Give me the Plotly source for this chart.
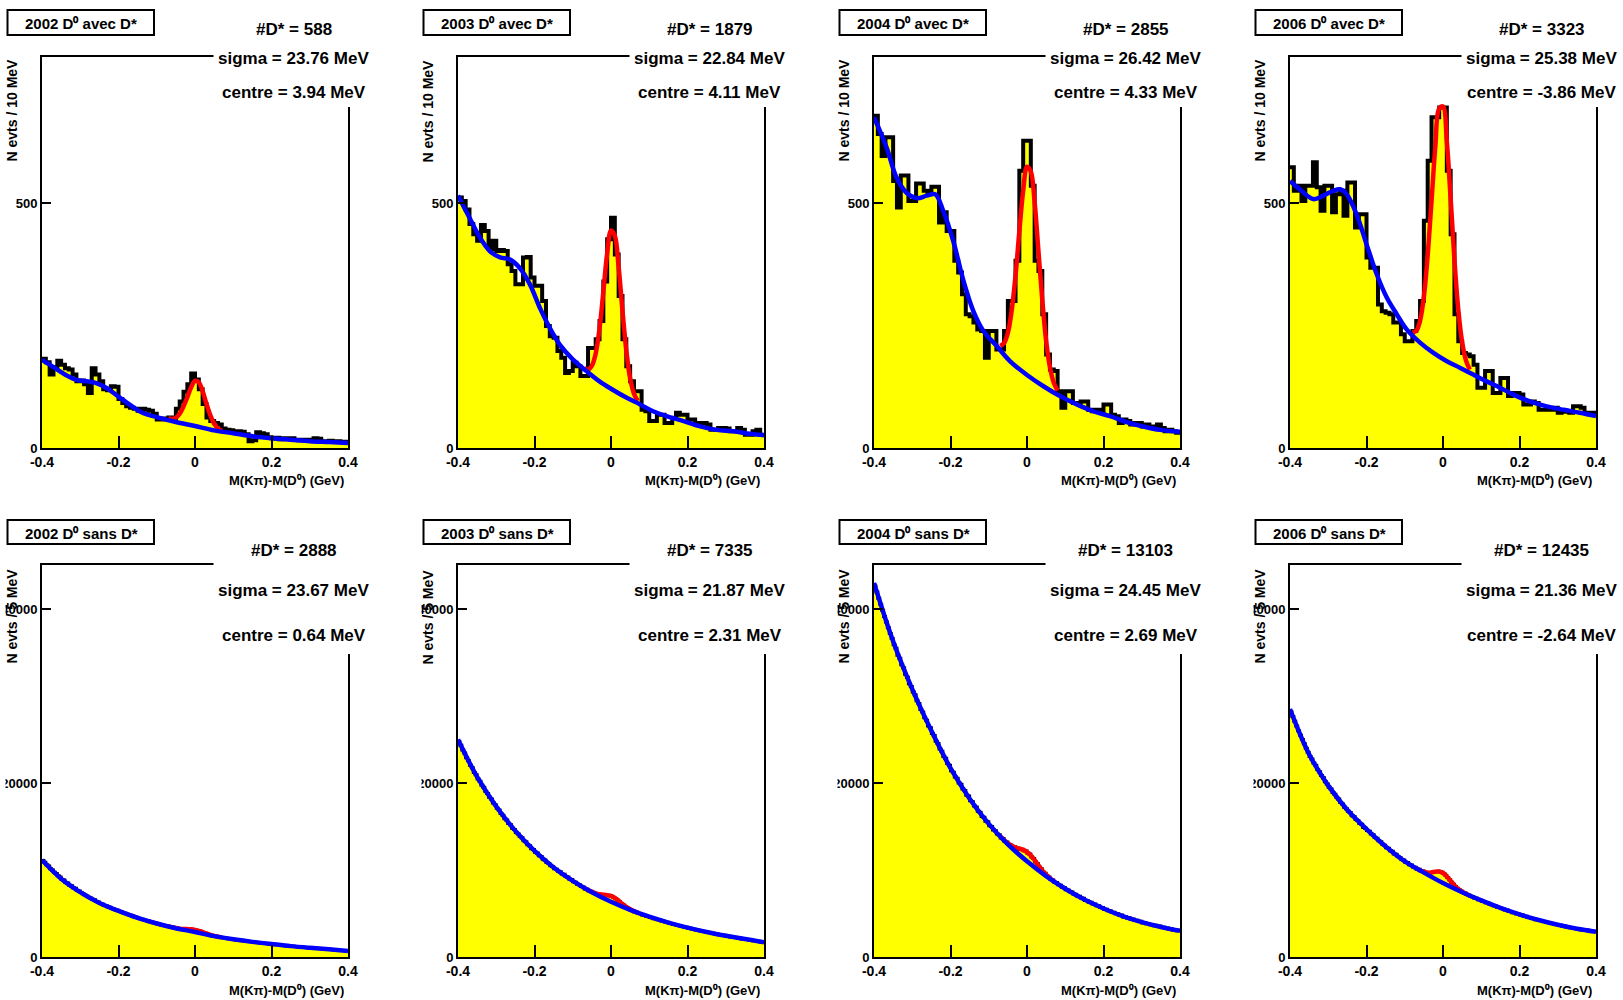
import numpy as np
import plotly.graph_objects as go

# figure covers the whole 1623x1000 page (body margin removed after drawing)
PAGE_W, PAGE_H = 1623, 1000
OFF = 0
W, H = PAGE_W - 2 * OFF, PAGE_H - 2 * OFF
FONT = "Liberation Sans, Arial, Helvetica, sans-serif"

# ---------------- labels / fit results ----------------
YEARS = ["2002", "2003", "2004", "2006"]
N_DSTAR_AVEC = ["588", "1879", "2855", "3323"]
SIGMA_AVEC = ["23.76", "22.84", "26.42", "25.38"]
CENTRE_AVEC = ["3.94", "4.11", "4.33", "-3.86"]
N_DSTAR_SANS = ["2888", "7335", "13103", "12435"]
SIGMA_SANS = ["23.67", "21.87", "24.45", "21.36"]
CENTRE_SANS = ["0.64", "2.31", "2.69", "-2.64"]

X_TICKS = [-0.4, -0.2, 0, 0.2, 0.4]
X_TICK_TEXT = ["-0.4", "-0.2", "0", "0.2", "0.4"]
Y_TICKS_AVEC = [0, 500]
Y_TICK_TEXT_AVEC = ["0", "500"]
Y_TICKS_SANS = [0, 20000, 40000]
Y_TICK_TEXT_SANS = ["0", "20000", "40000"]

# ---------------- histograms: D0 avec D* (10 MeV bins, 80 bins) ----------------
H2002_AVEC = [182, 175, 150, 165, 178, 170, 163, 160, 150, 136,
              138, 130, 112, 163, 150, 136, 120, 118, 126, 125,
              100, 92, 85, 82, 80, 76, 80, 78, 76, 70,
              58, 60, 58, 62, 60, 80, 95, 115, 130, 152,
              140, 120, 90, 62, 55, 51, 48, 40, 37, 36,
              34, 34, 33, 28, 14, 16, 32, 30, 28, 22,
              20, 21, 18, 20, 19, 20, 17, 16, 17, 15,
              17, 20, 19, 14, 13, 15, 12, 14, 12, 13]
H2003_AVEC = [511, 504, 487, 457, 436, 423, 455, 443, 406, 423,
              402, 404, 402, 375, 361, 334, 334, 389, 390, 348,
              331, 331, 300, 249, 228, 225, 198, 184, 153, 157,
              174, 167, 147, 147, 204, 204, 222, 259, 340, 426,
              470, 395, 310, 222, 167, 136, 116, 116, 78, 75,
              55, 55, 68, 68, 51, 51, 61, 72, 68, 68,
              58, 58, 48, 51, 51, 48, 37, 37, 41, 41,
              40, 34, 34, 41, 37, 27, 27, 34, 37, 27]
H2004_AVEC = [678, 641, 596, 634, 634, 545, 491, 556, 556, 504,
              504, 540, 540, 525, 518, 533, 533, 460, 481, 443,
              443, 382, 358, 314, 273, 269, 256, 242, 239, 184,
              239, 239, 201, 201, 239, 300, 300, 382, 566, 627,
              627, 535, 382, 361, 273, 191, 160, 157, 116, 82,
              116, 116, 92, 92, 95, 95, 78, 75, 78, 75,
              89, 89, 68, 65, 51, 58, 55, 48, 51, 51,
              44, 48, 44, 41, 48, 41, 34, 37, 34, 31]
H2006_AVEC = [573, 525, 535, 504, 535, 535, 583, 532, 484, 535,
              535, 481, 518, 525, 474, 542, 542, 450, 477, 477,
              389, 368, 368, 293, 279, 276, 273, 256, 256, 232,
              218, 218, 239, 259, 300, 464, 586, 675, 675, 695,
              695, 566, 436, 273, 218, 194, 191, 187, 170, 123,
              123, 157, 157, 112, 112, 143, 143, 106, 112, 112,
              109, 89, 89, 95, 92, 78, 78, 78, 78, 82,
              72, 74, 75, 72, 85, 85, 82, 72, 72, 72]

# ---------------- histograms: D0 sans D* (5 MeV bins, 160 bins) ----------------
H2002_SANS = [11100, 10900, 10600, 10450, 10150, 10000, 9750, 9600, 9350, 9200,
              8900, 8850, 8550, 8500, 8250, 8200, 7950, 7900, 7650, 7600,
              7400, 7280, 7120, 7020, 6880, 6770, 6630, 6570, 6380, 6320,
              6150, 6080, 5930, 5910, 5780, 5720, 5580, 5520, 5430, 5370,
              5250, 5210, 5090, 5020, 4930, 4870, 4790, 4720, 4640, 4570,
              4450, 4410, 4340, 4270, 4190, 4160, 4040, 4010, 3940, 3910,
              3800, 3760, 3690, 3660, 3590, 3560, 3500, 3470, 3410, 3390,
              3320, 3270, 3260, 3235, 3225, 3200, 3210, 3180, 3175, 3130,
              3110, 3030, 2980, 2900, 2830, 2740, 2670, 2590, 2540, 2460,
              2410, 2350, 2315, 2260, 2230, 2175, 2145, 2105, 2075, 2035,
              2000, 1975, 1935, 1915, 1875, 1860, 1825, 1805, 1770, 1755,
              1715, 1695, 1660, 1645, 1610, 1595, 1560, 1545, 1515, 1505,
              1470, 1450, 1415, 1400, 1365, 1355, 1320, 1305, 1275, 1265,
              1240, 1225, 1195, 1185, 1155, 1145, 1115, 1105, 1080, 1075,
              1050, 1035, 1005, 1000, 975, 965, 940, 935, 905, 900,
              880, 865, 835, 825, 795, 785, 755, 750, 720, 710]
H2003_SANS = [24750, 24350, 23800, 23450, 22900, 22550, 22050, 21750, 21200, 20950,
              20450, 20200, 19750, 19500, 19050, 18800, 18350, 18150, 17700, 17500,
              17100, 16900, 16500, 16300, 15900, 15750, 15350, 15200, 14800, 14650,
              14300, 14150, 13850, 13700, 13350, 13250, 12900, 12800, 12450, 12350,
              12050, 11950, 11650, 11550, 11250, 11150, 10850, 10750, 10500, 10400,
              10150, 10100, 9850, 9800, 9550, 9500, 9250, 9200, 8950, 8900,
              8640, 8580, 8360, 8310, 8090, 8040, 7830, 7800, 7600, 7570,
              7440, 7350, 7275, 7225, 7180, 7160, 7140, 7130, 7090, 7040,
              6960, 6840, 6690, 6520, 6340, 6150, 5970, 5810, 5655, 5520,
              5370, 5310, 5175, 5130, 5005, 4960, 4840, 4800, 4690, 4660,
              4540, 4510, 4400, 4370, 4270, 4240, 4130, 4110, 4010, 3990,
              3880, 3860, 3760, 3740, 3640, 3620, 3530, 3510, 3420, 3410,
              3310, 3300, 3210, 3200, 3110, 3100, 3010, 3000, 2920, 2910,
              2820, 2820, 2730, 2730, 2650, 2650, 2570, 2570, 2490, 2490,
              2390, 2390, 2310, 2310, 2230, 2230, 2150, 2150, 2080, 2090,
              2010, 2010, 1930, 1940, 1860, 1870, 1790, 1800, 1730, 1720]
H2004_SANS = [42650, 41950, 41250, 40550, 39850, 39150, 38500, 37850, 37200, 36600,
              35900, 35500, 34700, 34350, 33600, 33250, 32500, 32150, 31400, 31100,
              30450, 30150, 29450, 29150, 28450, 28150, 27500, 27200, 26550, 26350,
              25700, 25450, 24800, 24550, 23900, 23650, 23050, 22850, 22250, 22050,
              21400, 21250, 20700, 20550, 20000, 19850, 19300, 19150, 18600, 18500,
              17950, 17850, 17350, 17250, 16750, 16650, 16150, 16050, 15600, 15550,
              15100, 15010, 14600, 14520, 14130, 14060, 13690, 13620, 13280, 13220,
              12930, 12880, 12660, 12660, 12480, 12510, 12350, 12380, 12200, 12185,
              11930, 11830, 11490, 11310, 10920, 10715, 10320, 10140, 9770, 9630,
              9300, 9210, 8920, 8860, 8600, 8550, 8305, 8260, 8030, 7990,
              7740, 7710, 7490, 7460, 7240, 7220, 7000, 6980, 6770, 6760,
              6500, 6490, 6290, 6290, 6080, 6080, 5890, 5890, 5690, 5700,
              5490, 5500, 5310, 5320, 5130, 5150, 4960, 4980, 4800, 4820,
              4610, 4640, 4470, 4500, 4330, 4360, 4200, 4230, 4070, 4100,
              3920, 3960, 3810, 3850, 3700, 3750, 3600, 3650, 3500, 3550,
              3380, 3430, 3290, 3340, 3200, 3250, 3110, 3170, 3030, 3080]
H2006_SANS = [28200, 27650, 27100, 26550, 26000, 25500, 25000, 24500, 24000, 23550,
              23050, 22750, 22300, 22050, 21550, 21300, 20850, 20600, 20150, 19900,
              19500, 19300, 18900, 18700, 18350, 18150, 17750, 17600, 17200, 17050,
              16750, 16600, 16250, 16150, 15800, 15700, 15350, 15250, 14900, 14800,
              14550, 14450, 14150, 14050, 13750, 13650, 13350, 13250, 12950, 12850,
              12550, 12500, 12200, 12150, 11850, 11800, 11550, 11450, 11200, 11150,
              10880, 10850, 10610, 10580, 10350, 10325, 10100, 10095, 9885, 9895,
              9770, 9710, 9700, 9705, 9740, 9785, 9820, 9845, 9810, 9730,
              9590, 9390, 9140, 8880, 8600, 8350, 8110, 7910, 7735, 7585,
              7410, 7355, 7180, 7135, 6970, 6930, 6780, 6740, 6590, 6560,
              6410, 6380, 6230, 6200, 6050, 6020, 5880, 5850, 5710, 5690,
              5570, 5550, 5410, 5390, 5250, 5230, 5100, 5080, 4950, 4940,
              4830, 4820, 4690, 4680, 4550, 4550, 4420, 4420, 4290, 4290,
              4190, 4190, 4070, 4070, 3960, 3960, 3840, 3850, 3740, 3740,
              3650, 3660, 3550, 3560, 3460, 3470, 3370, 3380, 3280, 3290,
              3200, 3220, 3130, 3150, 3060, 3090, 3000, 3020, 2930, 2950]

# ---------------- fit curves ----------------
BKG_X_2002_AVEC = [-0.4, -0.37, -0.34, -0.31, -0.28, -0.26, -0.23, -0.2, -0.17, -0.14, -0.1,
                   -0.05, 0, 0.05, 0.1, 0.15, 0.2, 0.25, 0.3, 0.35, 0.4]
BKG_2002_AVEC = [180, 165, 150, 139, 136, 133, 122, 105, 88, 73, 63,
                 53, 45, 36, 30, 24, 20, 17, 14, 12, 10]
BKG_X_2003_AVEC = [-0.4, -0.37, -0.343, -0.317, -0.29, -0.265, -0.239, -0.212, -0.186, -0.16,
                   -0.134, -0.1, -0.064, -0.03, 0, 0.04, 0.076, 0.11, 0.145, 0.19,
                   0.233, 0.276, 0.32, 0.364, 0.4]
BKG_2003_AVEC = [515, 470, 430, 402, 389, 385, 368, 334, 286, 245,
                 211, 181, 157, 136, 121, 103, 89, 75, 65, 55,
                 44, 37, 34, 29, 26]
BKG_X_2004_AVEC = [-0.4, -0.367, -0.341, -0.315, -0.288, -0.262, -0.24, -0.219, -0.193, -0.166,
                   -0.14, -0.114, -0.079, -0.044, 0, 0.043, 0.086, 0.13, 0.173, 0.217,
                   0.26, 0.304, 0.348, 0.4]
BKG_2004_AVEC = [675, 613, 552, 521, 510, 515, 518, 484, 423, 341,
                 279, 239, 208, 177, 149, 126, 106, 89, 75, 65,
                 53, 44, 37, 33]
BKG_X_2006_AVEC = [-0.4, -0.37, -0.339, -0.313, -0.287, -0.269, -0.252, -0.226, -0.2, -0.173,
                   -0.147, -0.121, -0.095, -0.06, -0.025, 0.01, 0.044, 0.079, 0.114, 0.149,
                   0.184, 0.227, 0.271, 0.315, 0.358, 0.4]
BKG_2006_AVEC = [545, 525, 508, 515, 525, 528, 518, 477, 416, 354,
                 307, 273, 242, 215, 194, 177, 164, 150, 136, 123,
                 109, 95, 85, 78, 72, 65]

TOT_X_2002_AVEC = [-0.07, -0.06, -0.05, -0.04, -0.03, -0.02, -0.01, 0, 0.01, 0.02, 0.03, 0.04, 0.05, 0.06, 0.07]
TOT_2002_AVEC = [61, 59, 62, 70, 85, 104, 124, 137, 134, 116, 90, 67, 50, 40, 35]
TOT_X_2003_AVEC = [-0.07, -0.06, -0.05, -0.04, -0.03, -0.02, -0.01, 0, 0.01, 0.02, 0.03, 0.04, 0.05, 0.06, 0.07]
TOT_2003_AVEC = [163, 160, 168, 193, 244, 319, 397, 444, 433, 369, 280, 199, 142, 111, 96]
TOT_X_2004_AVEC = [-0.07, -0.06, -0.05, -0.04, -0.03, -0.02, -0.01, 0, 0.01, 0.02, 0.03, 0.04, 0.05, 0.06, 0.07, 0.08]
TOT_2004_AVEC = [208, 214, 235, 281, 352, 442, 525, 574, 564, 501, 401, 302, 219, 165, 133, 117]
TOT_X_2006_AVEC = [-0.08, -0.07, -0.06, -0.05, -0.04, -0.03, -0.02, -0.01, 0, 0.01, 0.02, 0.03, 0.04, 0.05, 0.06, 0.07]
TOT_2006_AVEC = [236, 239, 260, 309, 394, 504, 616, 693, 697, 625, 509, 383, 282, 216, 179, 160]

BKG_X_SANS = [-0.4, -0.35, -0.3, -0.25, -0.2, -0.15, -0.1, -0.05, 0,
              0.05, 0.1, 0.15, 0.2, 0.25, 0.3, 0.35, 0.4]
BKG_2002_SANS = [11150, 9000, 7450, 6200, 5300, 4500, 3850, 3300, 2880,
                 2400, 2030, 1740, 1490, 1250, 1060, 890, 700]
BKG_2003_SANS = [25000, 20700, 17300, 14500, 12200, 10300, 8750, 7450, 6350,
                 5420, 4630, 3960, 3380, 2880, 2450, 2060, 1700]
BKG_2004_SANS = [43000, 36300, 30800, 26000, 21700, 18200, 15300, 12950, 11000,
                 9300, 7850, 6600, 5580, 4700, 4000, 3450, 3000]
BKG_2006_SANS = [28500, 23300, 19700, 16900, 14700, 12700, 11000, 9700, 8500,
                 7450, 6500, 5650, 4900, 4250, 3700, 3250, 2900]

TOT_X_SANS = [-0.07, -0.06, -0.05, -0.04, -0.03, -0.02, -0.01, 0, 0.01, 0.02, 0.03, 0.04, 0.05, 0.06, 0.07]
TOT_2002_SANS = [3553, 3429, 3324, 3263, 3224, 3205, 3177, 3120, 3002, 2851, 2701, 2550, 2427, 2330, 2253]
TOT_2003_SANS = [7933, 7701, 7488, 7312, 7204, 7156, 7099, 7015, 6790, 6452, 6079, 5752, 5482, 5281, 5106]
TOT_2004_SANS = [13883, 13440, 13055, 12783, 12587, 12455, 12314, 12062, 11672, 11131, 10533, 9964, 9464, 9069, 8724]
TOT_2006_SANS = [10208, 9981, 9799, 9701, 9721, 9806, 9824, 9652, 9255, 8732, 8220, 7807, 7506, 7276, 7073]

# ---------------- layout constants (page pixels) ----------------
FRAME_LEFT = [42, 458, 874, 1290]
FRAME_W = 306
ROW = {
    "avec": dict(top=57, bottom=448, ymax=798, title_y0=10, title_y1=35,
                 stat_y=[29, 58, 93], box_y0=4, box_y1=107, xtitle_y=480,
                 ytitle_top=57, ylab="N evts / 10 MeV"),
    "sans": dict(top=565, bottom=957, ymax=45060, title_y0=520, title_y1=544,
                 stat_y=[550, 590, 635], box_y0=505, box_y1=654, xtitle_y=990,
                 ytitle_top=567, ylab="N evts / 5 MeV"),
}
SUP0 = "\u2070"


def px(x):
    return (x - OFF) / W


def py(y):
    return 1 - (y - OFF) / H


def bold(size):
    return dict(family=FONT, size=size, color="black", weight="bold")


panels = []
hist_avec = [H2002_AVEC, H2003_AVEC, H2004_AVEC, H2006_AVEC]
hist_sans = [H2002_SANS, H2003_SANS, H2004_SANS, H2006_SANS]
bkg_avec = [(BKG_X_2002_AVEC, BKG_2002_AVEC), (BKG_X_2003_AVEC, BKG_2003_AVEC),
            (BKG_X_2004_AVEC, BKG_2004_AVEC), (BKG_X_2006_AVEC, BKG_2006_AVEC)]
tot_avec = [(TOT_X_2002_AVEC, TOT_2002_AVEC), (TOT_X_2003_AVEC, TOT_2003_AVEC),
            (TOT_X_2004_AVEC, TOT_2004_AVEC), (TOT_X_2006_AVEC, TOT_2006_AVEC)]
bkg_sans = [BKG_2002_SANS, BKG_2003_SANS, BKG_2004_SANS, BKG_2006_SANS]
tot_sans = [TOT_2002_SANS, TOT_2003_SANS, TOT_2004_SANS, TOT_2006_SANS]

for c in range(4):
    panels.append(dict(row="avec", col=c, hist=hist_avec[c], bkg=bkg_avec[c], tot=tot_avec[c],
                       title=f"{YEARS[c]} D{SUP0} avec D*",
                       stats=[f"#D* = {N_DSTAR_AVEC[c]}", f"sigma = {SIGMA_AVEC[c]} MeV",
                              f"centre = {CENTRE_AVEC[c]} MeV"],
                       yt=Y_TICKS_AVEC, ytt=Y_TICK_TEXT_AVEC))
for c in range(4):
    panels.append(dict(row="sans", col=c, hist=hist_sans[c], bkg=(BKG_X_SANS, bkg_sans[c]),
                       tot=(TOT_X_SANS, tot_sans[c]),
                       title=f"{YEARS[c]} D{SUP0} sans D*",
                       stats=[f"#D* = {N_DSTAR_SANS[c]}", f"sigma = {SIGMA_SANS[c]} MeV",
                              f"centre = {CENTRE_SANS[c]} MeV"],
                       yt=Y_TICKS_SANS, ytt=Y_TICK_TEXT_SANS))

fig = go.Figure()
shapes = []
annotations = []

for i, p in enumerate(panels):
    n = i + 1
    xs = "x" if n == 1 else f"x{n}"
    ys = "y" if n == 1 else f"y{n}"
    r = ROW[p["row"]]
    fl = FRAME_LEFT[p["col"]]

    vals = list(p["hist"])
    nb = len(vals)
    edges = np.linspace(-0.4, 0.4, nb + 1)
    fig.add_trace(go.Scatter(
        x=edges, y=vals + [vals[-1]], mode="lines", line_shape="hv",
        line=dict(color="black", width=4 if p["row"] == "avec" else 3),
        fill="tozeroy", fillcolor="#ffff00", xaxis=xs, yaxis=ys,
        showlegend=False, hoverinfo="skip"))
    tx, ty = p["tot"]
    fig.add_trace(go.Scatter(
        x=tx, y=ty, mode="lines", line=dict(color="#ff0000", width=4.5, shape="spline", smoothing=1.0),
        xaxis=xs, yaxis=ys, showlegend=False, hoverinfo="skip"))
    bx, by = p["bkg"]
    fig.add_trace(go.Scatter(
        x=bx, y=by, mode="lines", line=dict(color="#0000ff", width=4.5, shape="spline", smoothing=1.0),
        xaxis=xs, yaxis=ys, showlegend=False, hoverinfo="skip"))

    xa = "xaxis" if n == 1 else f"xaxis{n}"
    ya = "yaxis" if n == 1 else f"yaxis{n}"
    fig.update_layout(**{
        xa: dict(domain=[px(fl), px(fl + FRAME_W)], anchor=ys, range=[-0.4, 0.4],
                 tickvals=X_TICKS, ticktext=X_TICK_TEXT, ticks="inside", ticklen=12,
                 tickwidth=2, tickcolor="black", showline=True, linewidth=2,
                 linecolor="black", mirror=True, showgrid=False, zeroline=False,
                 tickfont=bold(14), fixedrange=True, automargin=False),
        ya: dict(domain=[py(r["bottom"]), py(r["top"])], anchor=xs, range=[0, r["ymax"]],
                 tickvals=p["yt"], ticktext=p["ytt"], ticks="inside", ticklen=9,
                 tickwidth=2, tickcolor="black", showline=True, linewidth=2,
                 linecolor="black", mirror=True, showgrid=False, zeroline=False,
                 tickfont=bold(13), fixedrange=True, automargin=False),
    })

    # stats box (white, hides part of the frame)
    shapes.append(dict(type="rect", xref="paper", yref="paper", layer="above",
                       x0=px(fl + 171.5), x1=px(fl + 336), y0=py(r["box_y1"]), y1=py(r["box_y0"]),
                       fillcolor="white", line=dict(width=0)))
    # title box
    shapes.append(dict(type="rect", xref="paper", yref="paper", layer="above",
                       x0=px(fl - 34.5), x1=px(fl + 112), y0=py(r["title_y1"]),
                       y1=py(r["title_y0"]),
                       fillcolor="white", line=dict(color="black", width=2)))
    if p["row"] == "sans":
        # the pad clips the left part of the long tick labels
        for yv in (783, 609):
            shapes.append(dict(type="rect", xref="paper", yref="paper", layer="above",
                               x0=px(max(fl - 55, 0)), x1=px(fl - 36.5), y0=py(yv + 9), y1=py(yv - 9),
                               fillcolor="white", line=dict(width=0)))

    annotations.append(dict(text=p["title"], xref="paper", yref="paper",
                            x=px(fl + 39), y=py((r["title_y0"] + r["title_y1"]) / 2 + 1),
                            xanchor="center", yanchor="middle", showarrow=False,
                            font=bold(15)))
    for k, s in enumerate(p["stats"]):
        annotations.append(dict(text=s, xref="paper", yref="paper",
                                x=px(fl + 251.5), y=py(r["stat_y"][k]),
                                xanchor="center", yanchor="middle", showarrow=False,
                                font=bold(17)))
    annotations.append(dict(text=r["ylab"], xref="paper", yref="paper",
                            x=px(fl - 31), y=py(r["ytitle_top"]), textangle=-90,
                            xanchor="center", yanchor="top", showarrow=False,
                            font=bold(14)))
    annotations.append(dict(text=f"M(K\u03c0)-M(D{SUP0}) (GeV)", xref="paper", yref="paper",
                            x=px(fl + 304), y=py(r["xtitle_y"]),
                            xanchor="right", yanchor="middle", showarrow=False,
                            font=bold(13)))

fig.update_layout(width=W, height=H, autosize=False,
                  margin=dict(l=0, r=0, t=0, b=0, pad=0, autoexpand=False),
                  paper_bgcolor="white", plot_bgcolor="white",
                  shapes=shapes, annotations=annotations, showlegend=False,
                  font=dict(family=FONT, color="black"))

fig.write_html("out.html", config={"displayModeBar": False},
               post_script="document.body.style.margin='0px';"
                           "document.body.style.padding='0px';"
                           "document.documentElement.style.overflow='hidden';")
